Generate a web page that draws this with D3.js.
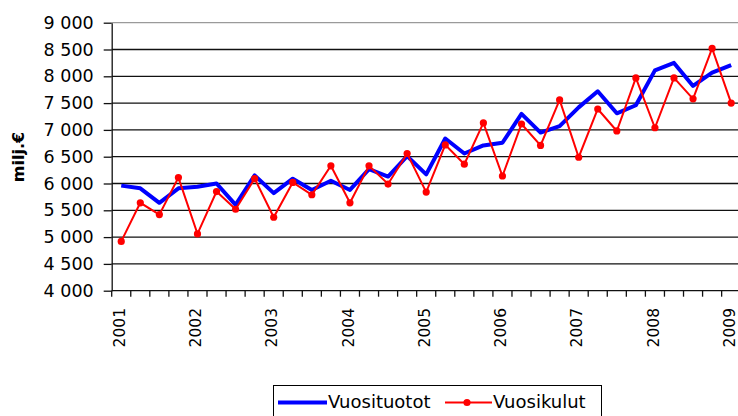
<!DOCTYPE html>
<html>
<head>
<meta charset="utf-8">
<script src="https://cdn.jsdelivr.net/npm/d3@7"></script>
<style>
  body { margin: 0; background: #fff; }
  text { font-family: "DejaVu Sans", sans-serif; fill: #000; }
</style>
</head>
<body>
<svg id="chart" width="738" height="416"></svg>
<script>
// quarterly points, 2001/1 .. 2009/1
const quarters = [
  '2001/1','2001/2','2001/3','2001/4','2002/1','2002/2','2002/3','2002/4',
  '2003/1','2003/2','2003/3','2003/4','2004/1','2004/2','2004/3','2004/4',
  '2005/1','2005/2','2005/3','2005/4','2006/1','2006/2','2006/3','2006/4',
  '2007/1','2007/2','2007/3','2007/4','2008/1','2008/2','2008/3','2008/4',
  '2009/1'
];
const tuotot = [
  5960, 5910, 5640, 5910, 5940, 6000, 5600, 6150,
  5820, 6090, 5880, 6050, 5880, 6270, 6130, 6510,
  6170, 6840, 6560, 6710, 6760, 7300, 6950, 7070,
  7420, 7720, 7310, 7460, 8110, 8250, 7820, 8070,
  8210
];
const kulut = [
  4920, 5640, 5420, 6110, 5060, 5850, 5520, 6090,
  5370, 6020, 5790, 6330, 5640, 6330, 5990, 6560,
  5840, 6720, 6360, 7130, 6140, 7110, 6710, 7560,
  6490, 7390, 6980, 7970, 7040, 7970, 7580, 8520,
  7500
];
const yTicks = [4000, 4500, 5000, 5500, 6000, 6500, 7000, 7500, 8000, 8500, 9000];
const seriesNames = ['Vuosituotot', 'Vuosikulut'];
const yTitle = 'milj.€';

const svg = d3.select('#chart');
svg.append('rect').attr('width', 738).attr('height', 416).attr('fill', '#fff');

const x = d3.scaleBand().domain(quarters).range([111.7, 740.7]);
const y = d3.scaleLinear().domain([4000, 9000]).range([290.7, 22.7]);
const cx = d => x(d) + x.bandwidth() / 2;

const fmt = d3.formatLocale({decimal: ',', thousands: ' ', grouping: [3], currency: ['', '']}).format(',');

// gridlines
svg.append('g')
  .selectAll('line')
  .data(yTicks.filter(v => v > 4000))
  .enter().append('line')
  .attr('x1', x.range()[0]).attr('x2', x.range()[1])
  .attr('y1', d => y(d)).attr('y2', d => y(d))
  .attr('stroke', d => d === 9000 ? '#9a9a9a' : '#111')
  .attr('stroke-width', 1.3);

// y axis
const yAxis = svg.append('g')
  .attr('transform', `translate(${x.range()[0]},0)`)
  .call(d3.axisLeft(y).tickValues(yTicks).tickSize(8).tickSizeOuter(0).tickPadding(10).tickFormat(fmt));
yAxis.selectAll('path, line').attr('stroke', '#111').attr('stroke-width', 1.3);
yAxis.selectAll('text').attr('font-size', 17.5).attr('font-family', '"DejaVu Sans", sans-serif');

// x axis: line, ticks on band edges, year labels on first quarters
const xg = svg.append('g');
xg.append('line')
  .attr('x1', x.range()[0]).attr('x2', x.range()[1])
  .attr('y1', y(4000)).attr('y2', y(4000))
  .attr('stroke', '#111').attr('stroke-width', 1.3);
xg.selectAll('.tick')
  .data(quarters)
  .enter().append('line')
  .attr('x1', d => x(d)).attr('x2', d => x(d))
  .attr('y1', y(4000)).attr('y2', y(4000) + 6)
  .attr('stroke', '#111').attr('stroke-width', 1.3);
xg.selectAll('text')
  .data(quarters.filter(d => d.endsWith('/1')))
  .enter().append('text')
  .attr('transform', d => `translate(${cx(d) - 2},308) rotate(-90)`)
  .attr('text-anchor', 'end')
  .attr('dy', '0.36em')
  .attr('font-size', 15.5)
  .text(d => d.slice(0, 4));

// y title
svg.append('text')
  .attr('transform', `translate(18,157) rotate(-90)`)
  .attr('text-anchor', 'middle')
  .attr('dy', '0.36em')
  .attr('font-size', 16)
  .attr('font-weight', 'bold')
  .text(yTitle);

// series
const line = d3.line().x((d, i) => cx(quarters[i])).y(d => y(d));

svg.append('path')
  .datum(tuotot)
  .attr('d', line)
  .attr('fill', 'none')
  .attr('stroke', '#0000ff')
  .attr('stroke-width', 4)
  .attr('stroke-linejoin', 'round');

svg.append('path')
  .datum(kulut)
  .attr('d', line)
  .attr('fill', 'none')
  .attr('stroke', '#ff0000')
  .attr('stroke-width', 2);

svg.append('g')
  .selectAll('circle')
  .data(kulut)
  .enter().append('circle')
  .attr('cx', (d, i) => cx(quarters[i]))
  .attr('cy', d => y(d))
  .attr('r', 3.6)
  .attr('fill', '#ff0000');

// legend
const lg = svg.append('g');
lg.append('rect')
  .attr('x', 273.5).attr('y', 385.5).attr('width', 328).attr('height', 40)
  .attr('fill', '#fff').attr('stroke', '#000').attr('stroke-width', 1);

lg.append('line')
  .attr('x1', 278).attr('x2', 327).attr('y1', 402.5).attr('y2', 402.5)
  .attr('stroke', '#0000ff').attr('stroke-width', 4);
lg.append('text')
  .attr('x', 328).attr('y', 408)
  .attr('font-size', 18)
  .text(seriesNames[0]);

lg.append('line')
  .attr('x1', 445).attr('x2', 492).attr('y1', 402.5).attr('y2', 402.5)
  .attr('stroke', '#ff0000').attr('stroke-width', 2);
lg.append('circle')
  .attr('cx', 467).attr('cy', 402.5).attr('r', 3.6)
  .attr('fill', '#ff0000');
lg.append('text')
  .attr('x', 493).attr('y', 408)
  .attr('font-size', 18)
  .text(seriesNames[1]);
</script>
</body>
</html>
